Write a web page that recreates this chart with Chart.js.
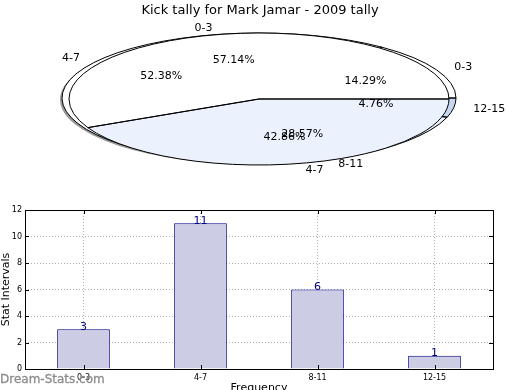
<!DOCTYPE html>
<html>
<head>
<meta charset="utf-8">
<script src="https://cdn.jsdelivr.net/npm/chart.js@4"></script>
<style>
  html, body { margin: 0; padding: 0; background: #fff; }
  #wrap { position: relative; width: 520px; height: 390px; overflow: hidden; font-family: 'DejaVu Sans', sans-serif; }
  #wrap canvas { position: absolute; left: 0; }
  #mark { position: absolute; left: 0; top: 372px; font-size: 12px; color: #8c8c8c; white-space: nowrap; -webkit-text-stroke: 0.3px #8c8c8c; }
</style>
</head>
<body>
<div id="wrap">
  <canvas id="pieB" width="520" height="195" style="top:0"></canvas>
  <canvas id="pieA" width="520" height="195" style="top:0"></canvas>
  <canvas id="bars" width="520" height="200" style="top:195px"></canvas>
  <div id="mark">Dream-Stats.com</div>
</div>
<script>
// dados
const categories = ['0-3', '4-7', '8-11', '12-15'];
const counts = [3, 11, 6, 1];
const splitLabels = ['0-3', '4-7'];
const splitValues = [57.14, 42.86];
const yTicks = [0, 2, 4, 6, 8, 10, 12];

const FONT = "'DejaVu Sans', sans-serif";

// rótulos (percentual + categoria) de uma pizza elíptica
function drawPieLabels(ctx, chart, o) {
    const arcs = chart.getDatasetMeta(0).data;
    const values = chart.data.datasets[0].data;
    const total = values.reduce((s, v) => s + v, 0);
    ctx.save();
    ctx.font = '11px ' + FONT;
    ctx.fillStyle = '#000';
    ctx.textBaseline = 'middle';
    arcs.forEach((arc, i) => {
        const mid = (arc.startAngle + arc.endAngle) / 2;
        const c = Math.cos(mid), s = Math.sin(mid);
        ctx.textAlign = 'center';
        ctx.fillText((values[i] / total * 100).toFixed(2) + '%', o.cx + 0.6 * o.rx * c, o.cy - 0.6 * o.ry * s);
        ctx.textAlign = c < 0 ? 'right' : 'left';
        ctx.fillText(chart.data.labels[i], o.cx + 1.1 * o.rx * c, o.cy - 1.1 * o.ry * s);
    });
    ctx.restore();
}

// achata a pizza numa elipse e desenha contornos
const ellipsePlugin = {
    id: 'ellipse',
    beforeDatasetsDraw(chart, args, o) {
        const ctx = chart.ctx;
        const a = chart.getDatasetMeta(0).data[0];
        if (o.shadow) {
            ctx.save();
            ctx.fillStyle = o.shadow;
            ctx.beginPath();
            ctx.ellipse(o.cx - 2, o.cy + 1.5, o.rx, o.ry, 0, 0, Math.PI * 2);
            ctx.fill();
            ctx.restore();
        }
        ctx.save();
        ctx.translate(o.cx, o.cy);
        ctx.scale(o.rx / a.outerRadius, -o.ry / a.outerRadius);
        ctx.translate(-a.x, -a.y);
    },
    afterDatasetsDraw(chart, args, o) {
        const ctx = chart.ctx;
        ctx.restore();
        const arcs = chart.getDatasetMeta(0).data;
        ctx.save();
        ctx.strokeStyle = '#000';
        ctx.lineWidth = 1;
        arcs.forEach(arc => {
            ctx.beginPath();
            ctx.moveTo(o.cx, o.cy);
            ctx.ellipse(o.cx, o.cy, o.rx, o.ry, 0, -arc.startAngle, -arc.endAngle, true);
            ctx.closePath();
            ctx.stroke();
        });
        ctx.restore();
        // os rótulos da pizza de trás também ficam por cima
        (o.under || []).forEach(u => drawPieLabels(ctx, u.chart, u.geo));
        if (!o.noLabels) drawPieLabels(ctx, chart, o);
    }
};

function pieConfig(labels, values, colors, geo, title) {
    return {
        type: 'pie',
        data: {
            labels: labels,
            datasets: [{ data: values, backgroundColor: colors, borderWidth: 0 }]
        },
        options: {
            responsive: false,
            animation: false,
            rotation: 90,
            events: [],
            plugins: {
                legend: { display: false },
                tooltip: { enabled: false },
                title: title ? {
                    display: true,
                    text: title,
                    color: '#000',
                    font: { family: FONT, size: 13, weight: 'normal' },
                    padding: { top: 3, bottom: 0 }
                } : { display: false },
                ellipse: geo
            }
        },
        plugins: [ellipsePlugin]
    };
}

// pizza de fundo (4 fatias)
const geoB = { cx: 259, cy: 98, rx: 197, ry: 65, shadow: 'rgba(0,0,0,0.4)', noLabels: true };
const pieB = new Chart(document.getElementById('pieB'), pieConfig(
    categories, counts,
    ['#ffffff', '#ffffff', '#eaf0fc', '#c6d8f0'],
    geoB,
    null
));

// pizza da frente (2 fatias)
new Chart(document.getElementById('pieA'), pieConfig(
    splitLabels, splitValues,
    ['#ffffff', '#ebf1fd'],
    { cx: 259, cy: 99, rx: 190, ry: 66, under: [{ chart: pieB, geo: geoB }] },
    'Kick tally for Mark Jamar - 2009 tally'
));

// moldura estilo matplotlib com ticks para dentro
const framePlugin = {
    id: 'frame',
    afterDraw(chart) {
        const ctx = chart.ctx;
        const a = chart.chartArea;
        const x = chart.scales.x, y = chart.scales.y;
        ctx.save();
        ctx.setLineDash([]);
        ctx.strokeStyle = '#000';
        ctx.lineWidth = 1;
        ctx.strokeRect(Math.round(a.left) + 0.5, Math.round(a.top) + 0.5, Math.round(a.right - a.left), Math.round(a.bottom - a.top));
        ctx.beginPath();
        yTicks.forEach(v => {
            const py = Math.round(y.getPixelForValue(v)) + 0.5;
            ctx.moveTo(a.left, py); ctx.lineTo(a.left + 4, py);
            ctx.moveTo(a.right, py); ctx.lineTo(a.right - 4, py);
        });
        categories.forEach((c, i) => {
            const px = Math.round(x.getPixelForValue(i)) + 0.5;
            ctx.moveTo(px, a.bottom); ctx.lineTo(px, a.bottom - 4);
            ctx.moveTo(px, a.top); ctx.lineTo(px, a.top + 4);
        });
        ctx.stroke();
        ctx.restore();
    }
};

// valores em cima das barras
const valuePlugin = {
    id: 'values',
    afterDatasetsDraw(chart) {
        const ctx = chart.ctx;
        const bars = chart.getDatasetMeta(0).data;
        ctx.save();
        ctx.font = '11px ' + FONT;
        ctx.fillStyle = '#000080';
        ctx.textAlign = 'center';
        ctx.textBaseline = 'bottom';
        bars.forEach((b, i) => ctx.fillText(String(counts[i]), b.x, b.y + 3));
        ctx.restore();
    }
};

new Chart(document.getElementById('bars'), {
    type: 'bar',
    data: {
        labels: categories,
        datasets: [{
            data: counts,
            backgroundColor: '#cccce4',
            borderColor: '#000080',
            borderWidth: 1,
            barPercentage: 0.45,
            categoryPercentage: 1
        }]
    },
    options: {
        responsive: false,
        animation: false,
        events: [],
        layout: { padding: { top: 15, right: 27, left: 0, bottom: 0 } },
        plugins: { legend: { display: false }, tooltip: { enabled: false } },
        scales: {
            x: {
                grid: { offset: false, color: '#b0b0b0', drawTicks: false },
                border: { display: false, dash: [1, 2] },
                ticks: { color: '#000', padding: 4, font: { family: FONT, size: 8 } },
                title: { display: true, text: 'Frequency', color: '#000', font: { family: FONT, size: 11 }, padding: 0 },
                afterFit: s => { s.height = 26; }
            },
            y: {
                min: 0,
                max: 12,
                grid: { color: '#b0b0b0', drawTicks: false },
                border: { display: false, dash: [1, 2] },
                ticks: { stepSize: 2, color: '#000', padding: 3, font: { family: FONT, size: 8 } },
                title: { display: true, text: 'Stat Intervals', color: '#000', font: { family: FONT, size: 11 }, padding: 0 },
                afterFit: s => { s.width = 25; }
            }
        }
    },
    plugins: [valuePlugin, framePlugin]
});
</script>
</body>
</html>
